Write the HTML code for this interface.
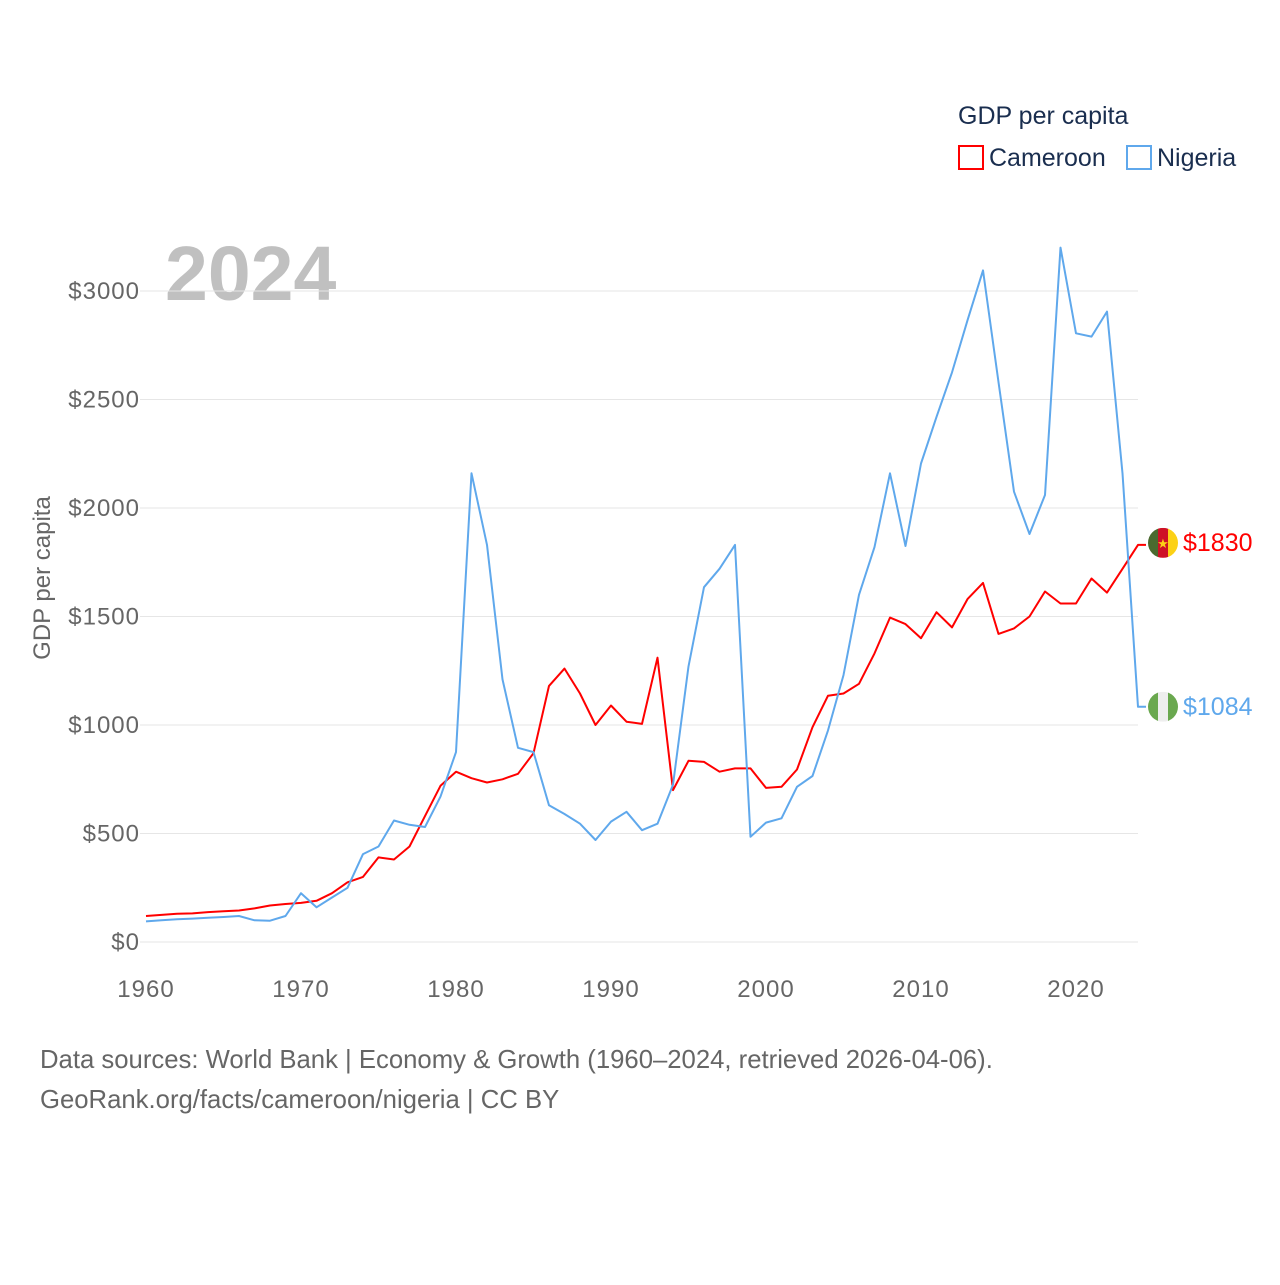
<!DOCTYPE html>
<html><head><meta charset="utf-8">
<style>
body{margin:0;background:#fff;width:1280px;height:1280px;overflow:hidden;font-family:"Liberation Sans",sans-serif}
svg text{font-family:"Liberation Sans",sans-serif}
</style></head>
<body>
<svg id="chart" width="1280" height="1280" xmlns="http://www.w3.org/2000/svg">
<text x="958" y="124" font-size="25" fill="#1a2e4f">GDP per capita</text>
<rect x="959" y="146" width="24" height="23" fill="none" stroke="#ff0000" stroke-width="2"/>
<text x="989" y="166" font-size="25" fill="#1a2e4f">Cameroon</text>
<rect x="1127" y="146" width="24" height="23" fill="none" stroke="#5fa8ec" stroke-width="2"/>
<text x="1157" y="166" font-size="25" fill="#1a2e4f">Nigeria</text>
<text x="165" y="300" font-size="77" font-weight="bold" fill="#c0c0c0">2024</text>
<text transform="translate(50,578) rotate(-90)" text-anchor="middle" font-size="24" fill="#666">GDP per capita</text>
<g id="grid"></g><g id="lines"></g><g id="ends"></g>
<text x="40" y="1068" font-size="25.7" fill="#666">Data sources: World Bank | Economy &amp; Growth (1960–2024, retrieved 2026-04-06).</text>
<text x="40" y="1108" font-size="25.7" fill="#666">GeoRank.org/facts/cameroon/nigeria | CC BY</text>
</svg>
<script>
const years=[];for(let y=1960;y<=2024;y++)years.push(y);
const cameroon=[120,125,130,132,138,142,145,155,168,175,180,190,225,275,300,390,380,440,580,720,785,755,735,750,775,870,1180,1260,1145,1000,1090,1015,1005,1310,700,835,830,785,800,800,710,715,795,990,1135,1145,1190,1330,1495,1465,1400,1520,1450,1580,1655,1420,1445,1500,1615,1560,1560,1675,1610,1720,1830];
const nigeria=[95,100,105,108,112,115,120,100,98,120,225,160,205,250,405,440,560,540,530,670,875,2160,1830,1210,895,875,630,590,545,470,555,600,515,545,725,1270,1635,1720,1830,485,550,570,715,765,975,1230,1600,1820,2160,1825,2205,2420,2625,2865,3095,2580,2075,1880,2060,3200,2805,2790,2905,2160,1084];
const yTicks=[0,500,1000,1500,2000,2500,3000];
const xTicks=[1960,1970,1980,1990,2000,2010,2020];
const X=y=>146+(y-1960)*15.5;
const Y=v=>942-v*0.217;
const NS="http://www.w3.org/2000/svg";
function mk(t,a,p){const e=document.createElementNS(NS,t);for(const k in a)e.setAttribute(k,a[k]);p.appendChild(e);return e;}
const grid=document.getElementById('grid');
yTicks.forEach(v=>{
 const l=mk('line',{x1:140,x2:1138,y1:Y(v),y2:Y(v),stroke:'#e6e6e6','stroke-width':1},grid);
 
 
 const t=mk('text',{x:140,y:Y(v)+8,'text-anchor':'end','font-size':24,'letter-spacing':1,fill:'#666'},grid);
 t.textContent='$'+v;
 
 
});
xTicks.forEach(y=>{
 const t=mk('text',{x:X(y),y:997,'text-anchor':'middle','font-size':24,'letter-spacing':1,fill:'#666'},grid);
 t.textContent=y;
 
 
});
const lines=document.getElementById('lines');
[[cameroon,'#ff0000','cameroon'],[nigeria,'#5fa8ec','nigeria']].forEach(([d,c,n])=>{
 let s=d.map((v,i)=>(i?'L':'M')+X(years[i]).toFixed(1)+','+Y(v).toFixed(1)).join(' ');
 s+=' L'+(X(2024)+8)+','+Y(d[d.length-1]).toFixed(1);
 const p=mk('path',{d:s,fill:'none',stroke:c,'stroke-width':2,'stroke-linejoin':'round'},lines);
 
 
});
const ends=document.getElementById('ends');
function flag(cy,cols,n){
 const g=mk('g',{},ends);
 
 
 const id='clip'+n;
 const cp=mk('clipPath',{id:id},g);mk('circle',{cx:1163,cy:cy,r:15},cp);
 cols.forEach((c,i)=>mk('rect',{x:1148+i*10,y:cy-15,width:10.5,height:30,fill:c,'clip-path':'url(#'+id+')'},g));
 if(n==='cameroon')mk('text',{x:1163,y:cy+5,'text-anchor':'middle','font-size':13,fill:'#fcd116'},g).textContent='★';
}
const cy1=Y(cameroon[cameroon.length-1])-2, cy2=Y(nigeria[nigeria.length-1]);
flag(cy1,['#4a6a2f','#ce1126','#fcd116'],'cameroon');
flag(cy2,['#6aa84f','#eeeeee','#6aa84f'],'nigeria');
[[cy1,cameroon,'#ff0000','cameroon'],[cy2,nigeria,'#5fa8ec','nigeria']].forEach(([cy,d,c,n])=>{
 const t=mk('text',{x:1183,y:cy+8,'font-size':25,fill:c},ends);
 t.textContent='$'+d[d.length-1];
 
 
});
</script>
</body></html>
